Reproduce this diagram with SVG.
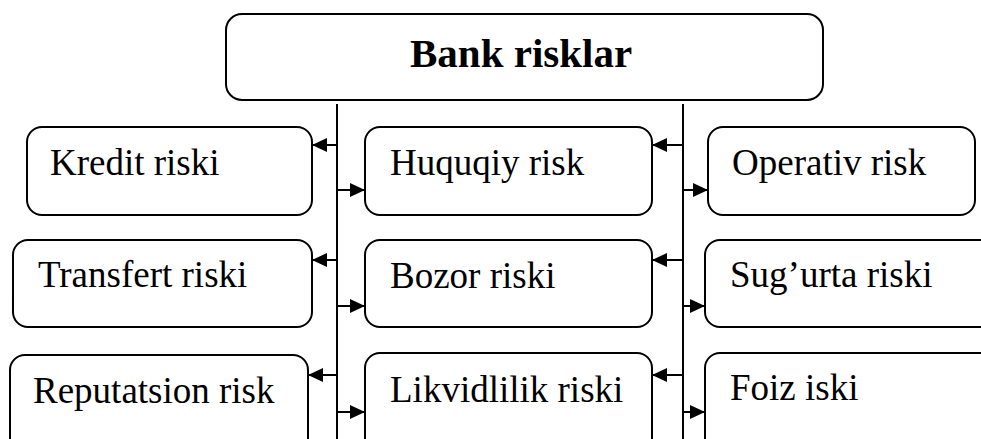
<svg xmlns="http://www.w3.org/2000/svg" width="981" height="439" viewBox="0 0 981 439">
  <defs>
    <marker id="arrow" viewBox="0 0 15 14" refX="15" refY="7" markerWidth="15" markerHeight="14" markerUnits="userSpaceOnUse" orient="auto">
      <path d="M0,0 L15,7 L0,14 Z" fill="#000"/>
    </marker>
  </defs>
  <style>
    .box { fill: #fff; stroke: #000; stroke-width: 2; }
    .lbl { font-family: 'Liberation Serif', 'DejaVu Serif', serif; font-size: 37px; fill: #000; }
    .title { font-family: 'Liberation Serif', 'DejaVu Serif', serif; font-size: 41px; font-weight: bold; fill: #000; }
    .trunk { stroke: #000; stroke-width: 2; fill: none; }
    .arr { stroke: #000; stroke-width: 2; fill: none; marker-end: url(#arrow); }
  </style>
  <rect width="981" height="439" fill="#fff"/>

  <g id="bank-risklar">
    <rect class="box" x="226" y="14" width="597" height="86" rx="16"/>
    <text class="title" x="410" y="67">Bank risklar</text>
  </g>

  <!-- left column -->
  <g id="kredit-riski">
    <rect class="box" x="27" y="127" width="285" height="88" rx="15"/>
    <text class="lbl" x="50" y="175">Kredit riski</text>
  </g>
  <g id="transfert-riski">
    <rect class="box" x="13" y="240" width="299" height="87" rx="15"/>
    <text class="lbl" x="38" y="287">Transfert riski</text>
  </g>
  <g id="reputatsion-risk">
    <rect class="box" x="10" y="355" width="298" height="100" rx="15"/>
    <text class="lbl" x="33" y="403">Reputatsion risk</text>
  </g>

  <!-- middle column -->
  <g id="huquqiy-risk">
    <rect class="box" x="365" y="127" width="287" height="88" rx="15"/>
    <text class="lbl" x="390" y="175">Huquqiy risk</text>
  </g>
  <g id="bozor-riski">
    <rect class="box" x="365" y="240" width="287" height="87" rx="15"/>
    <text class="lbl" x="390" y="288">Bozor riski</text>
  </g>
  <g id="likvidlilik-riski">
    <rect class="box" x="365" y="353" width="287" height="100" rx="15"/>
    <text class="lbl" x="390" y="402">Likvidlilik riski</text>
  </g>

  <!-- right column -->
  <g id="operativ-risk">
    <rect class="box" x="708" y="127" width="267" height="88" rx="15"/>
    <text class="lbl" x="732" y="175">Operativ risk</text>
  </g>
  <g id="sugurta-riski">
    <rect class="box" x="705" y="240" width="300" height="87" rx="15"/>
    <text class="lbl" x="730" y="287">Sug’urta riski</text>
  </g>
  <g id="foiz-iski">
    <rect class="box" x="705" y="353" width="300" height="100" rx="15"/>
    <text class="lbl" x="730" y="400">Foiz iski</text>
  </g>

  <g id="connectors">
    <line class="trunk" x1="337" y1="104" x2="337" y2="439"/>
    <line class="trunk" x1="683" y1="104" x2="683" y2="439"/>

    <line class="arr" x1="337" y1="145" x2="312" y2="145"/>
    <line class="arr" x1="337" y1="190" x2="365" y2="190"/>
    <line class="arr" x1="683" y1="145" x2="652" y2="145"/>
    <line class="arr" x1="683" y1="190" x2="708" y2="190"/>

    <line class="arr" x1="337" y1="260" x2="312" y2="260"/>
    <line class="arr" x1="337" y1="306" x2="365" y2="306"/>
    <line class="arr" x1="683" y1="260" x2="652" y2="260"/>
    <line class="arr" x1="683" y1="306" x2="705" y2="306"/>

    <line class="arr" x1="337" y1="375" x2="308" y2="375"/>
    <line class="arr" x1="337" y1="412" x2="365" y2="412"/>
    <line class="arr" x1="683" y1="375" x2="652" y2="375"/>
    <line class="arr" x1="683" y1="412" x2="705" y2="412"/>
  </g>
</svg>
